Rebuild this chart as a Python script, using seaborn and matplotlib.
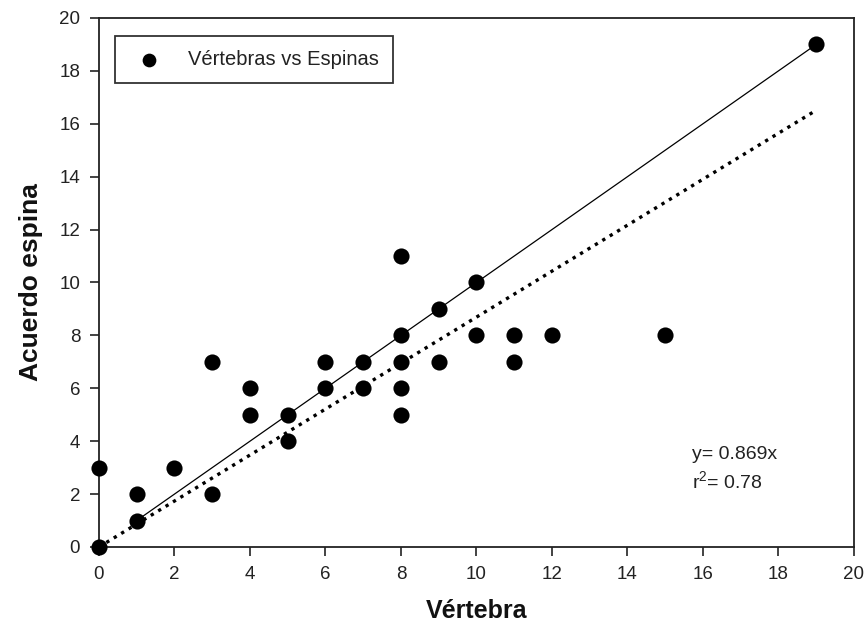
import numpy as np
import pandas as pd
import matplotlib
matplotlib.use("Agg")
import matplotlib.pyplot as plt
import seaborn as sns

# Vertebra count vs. spine agreement
vertebra = [0, 0, 1, 1, 2, 3, 3, 4, 4, 5, 5, 6, 6, 7, 7, 8, 8, 8, 8, 8, 9, 9, 10, 10, 11, 11, 12, 15, 19]
espina = [0, 3, 1, 2, 3, 2, 7, 5, 6, 4, 5, 6, 7, 6, 7, 5, 6, 7, 8, 11, 7, 9, 8, 10, 7, 8, 8, 8, 19]

slope = 0.869
r2 = 0.78
identity_x = [1, 19]
fit_x = [0, 19]

x_ticks = list(range(0, 21, 2))
y_ticks = list(range(0, 21, 2))

df = pd.DataFrame({"Vértebra": vertebra, "Acuerdo espina": espina})

sns.set_theme(style="ticks")
plt.rcParams["font.family"] = ["Liberation Sans", "DejaVu Sans"]

fig = plt.figure(figsize=(8.66, 6.37), dpi=100)
ax = fig.add_axes([0.1143, 0.1413, 0.8718, 0.8305])

# 1:1 reference line
sns.lineplot(x=identity_x, y=identity_x, ax=ax, color="black", linewidth=0.9, zorder=2)
# regression through origin
fx = np.array(fit_x, dtype=float)
sns.lineplot(x=fx, y=slope * fx, ax=ax, color="black", linewidth=2.4,
             linestyle=(0, (1, 1.6)), zorder=2)

sns.scatterplot(data=df, x="Vértebra", y="Acuerdo espina", ax=ax, color="black",
                s=135, edgecolor="black", linewidth=0, zorder=3, clip_on=False,
                label="Vértebras vs Espinas")

ax.set_xlim(0, 20)
ax.set_ylim(0, 20)
ax.set_xticks(x_ticks)
ax.set_yticks(y_ticks)
ax.tick_params(axis="both", direction="out", length=6.5, width=1.2, labelsize=13.5,
               colors="#222222", pad=7)
for side in ["left", "bottom", "top", "right"]:
    ax.spines[side].set_visible(True)
    ax.spines[side].set_linewidth(1.3)
    ax.spines[side].set_color("#222222")

ax.set_xlabel("Vértebra", fontsize=18, fontweight="bold", labelpad=12,
              color="#111111")
ax.set_ylabel("Acuerdo espina", fontsize=19, fontweight="bold", labelpad=12,
              color="#111111")

leg = ax.legend(loc="upper left", bbox_to_anchor=(0.0212, 0.966), fontsize=14.5,
                frameon=True, fancybox=False, edgecolor="black",
                borderpad=0.7, handletextpad=0.95, handlelength=2.0,
                borderaxespad=0.0, markerscale=0.85)
leg.get_frame().set_linewidth(1.3)
for t in leg.get_texts():
    t.set_color("#222222")

ax.text(15.7, 2.23, f"y= {slope}x\n$\\mathregular{{r^2}}$= {r2}", fontsize=14,
        color="#222222", va="baseline", ha="left", linespacing=1.4)

fig.savefig("out.png", dpi=100)
